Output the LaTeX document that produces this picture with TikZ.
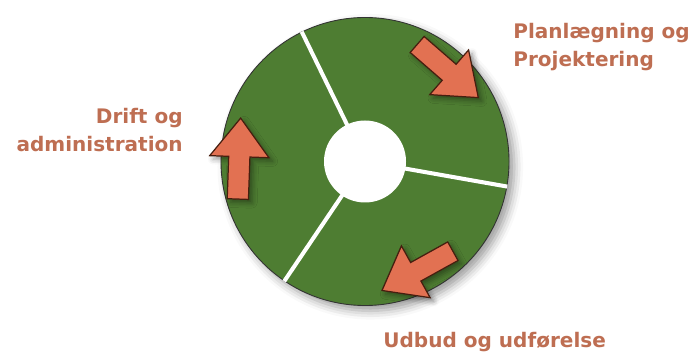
\documentclass[tikz,border=0pt]{standalone}
\usepackage{fontspec}
\setmainfont{DejaVu Sans}
\usetikzlibrary{shapes.arrows,shadows.blur}
\definecolor{wheelgreen}{RGB}{78,125,50}
\definecolor{arrowfill}{RGB}{226,113,82}
\definecolor{arrowline}{RGB}{70,30,15}
\definecolor{labeltext}{RGB}{190,110,82}

\begin{document}
\begin{tikzpicture}[
  phase/.style={single arrow, draw=arrowline, line width=0.7pt, fill=arrowfill,
    minimum height=1.62cm, inner xsep=0pt, inner ysep=0.2cm,
    single arrow head extend=0.38cm, single arrow tip angle=75,
    blur shadow={shadow xshift=2pt, shadow yshift=-2pt, shadow blur radius=3pt}},
  spoke/.style={draw=white, line width=2.3pt},
  label/.style={font=\fontsize{11.4}{16.4}\selectfont\bfseries, text=labeltext, inner sep=0pt}]
\useasboundingbox (0,0) rectangle (13.84,7.16);

% Wheel
\node[circle, draw=black!80, line width=0.5pt, fill=wheelgreen, minimum size=5.76cm,
  blur shadow={shadow xshift=3pt, shadow yshift=-3pt, shadow blur radius=5pt}] (disc) at (7.30,3.93) {};
\draw[spoke] (disc.center) -- (disc.116);
\draw[spoke] (disc.center) -- (disc.-10);
\draw[spoke] (disc.center) -- (disc.236);
\node[circle, fill=white, minimum size=1.64cm] (hub) at (disc.center) {};

% Arrows
\node[phase, rotate=-41] (toplan) at (8.85,5.83) {};
\node[phase, rotate=209] (toudbud) at (8.47,1.81) {};
\node[phase, rotate=88] (todrift) at (4.78,3.85) {};

% Labels
\node[label, align=left, anchor=base west] (plan) at (10.26,5.82) {Planlægning og\\Projektering};
\node[label, align=right, anchor=base east] (drift) at (3.66,4.12) {Drift og\\administration};
\node[label, anchor=base west] (udbud) at (7.66,0.22) {Udbud og udførelse};
\end{tikzpicture}
\end{document}
